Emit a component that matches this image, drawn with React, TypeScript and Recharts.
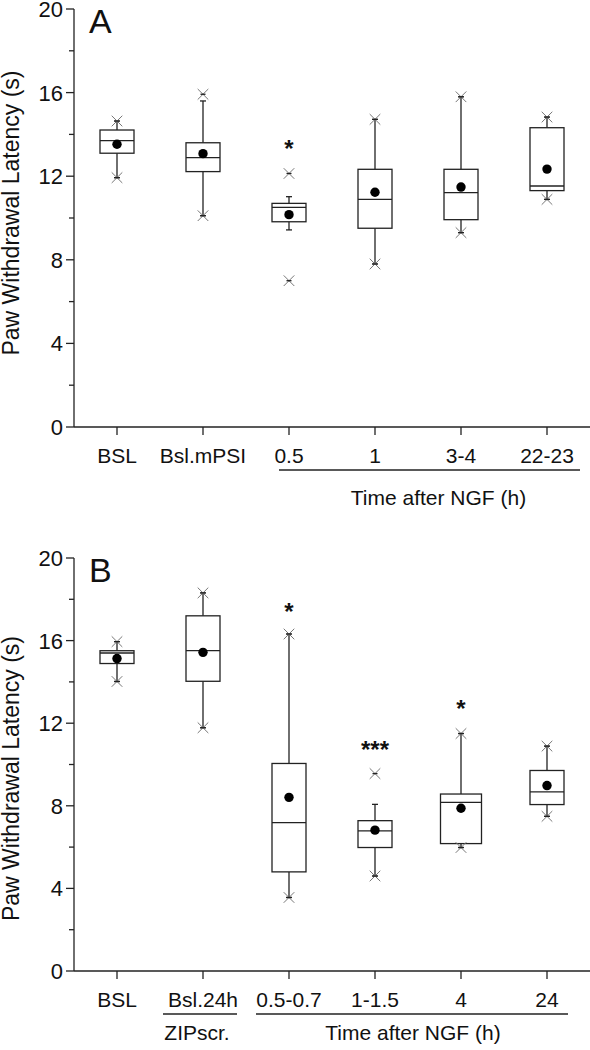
import React from "react";
import { ComposedChart, Bar, XAxis, YAxis } from "recharts";

const FONT = "'Liberation Sans', Arial, Helvetica, sans-serif";
const INK = "#222";

// Panel A
const catsA = ["BSL", "Bsl.mPSI", "0.5", "1", "3-4", "22-23"];
const lowA = [11.93, 10.11, 7.0, 7.8, 9.3, 10.89];
const wLowA = [11.93, 10.11, 9.43, 7.8, 9.3, 10.89];
const q1A = [13.1, 12.22, 9.82, 9.51, 9.92, 11.31];
const medA = [13.7, 12.89, 10.51, 10.89, 11.21, 11.53];
const meanA = [13.53, 13.08, 10.16, 11.23, 11.48, 12.34];
const q3A = [14.21, 13.6, 10.7, 12.33, 12.33, 14.32];
const wHighA = [14.64, 15.6, 11.02, 14.72, 15.8, 14.83];
const highA = [14.64, 15.92, 12.13, 14.72, 15.8, 14.83];
const sigA = ["", "", "*", "", "", ""];
const sigAtA = [0, 0, 13.6, 0, 0, 0];

// Panel B
const catsB = ["BSL", "Bsl.24h", "0.5-0.7", "1-1.5", "4", "24"];
const lowB = [14.02, 11.78, 3.56, 4.6, 5.98, 7.49];
const wLowB = [14.02, 11.78, 3.56, 4.6, 5.98, 7.49];
const q1B = [14.89, 14.03, 4.8, 5.98, 6.17, 8.06];
const medB = [15.4, 15.51, 7.19, 6.79, 8.17, 8.67];
const meanB = [15.13, 15.43, 8.41, 6.82, 7.88, 8.98];
const q3B = [15.51, 17.2, 10.05, 7.28, 8.57, 9.71];
const wHighB = [15.95, 18.31, 16.32, 8.07, 11.5, 10.89];
const highB = [15.95, 18.31, 16.32, 9.56, 11.5, 10.89];
const sigB = ["", "", "*", "***", "*", ""];
const sigAtB = [0, 0, 17.7, 11.0, 13.0, 0];

const yTicks = [0, 2, 4, 6, 8, 10, 12, 14, 16, 18, 20];

function build(cats, low, wLow, q1, med, mean, q3, wHigh, high, sig, sigAt) {
  return cats.map((name, i) => ({
    name,
    low: low[i],
    wLow: wLow[i],
    q1: q1[i],
    med: med[i],
    mean: mean[i],
    q3: q3[i],
    wHigh: wHigh[i],
    high: high[i],
    sig: sig[i],
    sigAt: sigAt[i],
  }));
}

const dataA = build(catsA, lowA, wLowA, q1A, medA, meanA, q3A, wHighA, highA, sigA, sigAtA);
const dataB = build(catsB, lowB, wLowB, q1B, medB, meanB, q3B, wHighB, highB, sigB, sigAtB);

function BoxShape(props: any) {
  const { x, y, width, height, payload: d, wideName } = props;
  // range bar spans [low, high], so map values through its own pixel extent
  const k = height / (d.high - d.low);
  const py = (v: number) => y + (d.high - v) * k;
  const cx = x + width / 2;
  const w = d.name === wideName ? 41 : width;
  const bx = cx - w / 2;
  const cross = (v: number) => {
    const cy = py(v);
    const s = 5.3;
    return (
      <g>
        <line x1={cx - s} y1={cy - s} x2={cx + s} y2={cy + s} stroke="#777" strokeWidth={1} />
        <line x1={cx - s} y1={cy + s} x2={cx + s} y2={cy - s} stroke="#777" strokeWidth={1} />
        <line x1={cx - 2.5} y1={cy} x2={cx + 2.5} y2={cy} stroke={INK} strokeWidth={1.3} />
      </g>
    );
  };
  return (
    <g>
      {/* whiskers */}
      <line x1={cx} y1={py(d.q3)} x2={cx} y2={py(d.wHigh)} stroke={INK} strokeWidth={1.3} />
      <line x1={cx} y1={py(d.q1)} x2={cx} y2={py(d.wLow)} stroke={INK} strokeWidth={1.3} />
      <line x1={cx - 3} y1={py(d.wHigh)} x2={cx + 3} y2={py(d.wHigh)} stroke={INK} strokeWidth={1.3} />
      <line x1={cx - 3} y1={py(d.wLow)} x2={cx + 3} y2={py(d.wLow)} stroke={INK} strokeWidth={1.3} />
      {/* box */}
      <rect x={bx} y={py(d.q3)} width={w} height={py(d.q1) - py(d.q3)} fill="#fff" stroke={INK} strokeWidth={1.3} />
      <line x1={bx} y1={py(d.med)} x2={bx + w} y2={py(d.med)} stroke={INK} strokeWidth={1.3} />
      <circle cx={cx} cy={py(d.mean)} r={4.7} fill="#000" />
      {cross(d.low)}
      {cross(d.high)}
      {d.sig && (
        <text x={cx} y={py(d.sigAt)} dy="0.6em" textAnchor="middle" fontSize={24} fontWeight="bold" fontFamily={FONT} fill="#111">
          {d.sig}
        </text>
      )}
    </g>
  );
}

function YTick(props: any) {
  const { x, y, payload } = props;
  const major = payload.value % 4 === 0;
  return (
    <g>
      <line x1={x} x2={x - (major ? 8 : 5)} y1={y} y2={y} stroke={INK} strokeWidth={1.3} />
      {major && (
        <text x={x - 11} y={y} dy="0.36em" textAnchor="end" fontSize={22} fontFamily={FONT} fill="#111">
          {payload.value}
        </text>
      )}
    </g>
  );
}

function XTick(props: any) {
  const { x, y, payload, index, groups, band, textDy } = props;
  const g = groups.find((gr) => gr.last === index);
  let extra = null;
  if (g) {
    const x0 = x - (g.last - g.first) * band + g.padL;
    const x1 = x + g.padR;
    extra = (
      <g>
        <line x1={x0} x2={x1} y1={y + 22} y2={y + 22} stroke={INK} strokeWidth={1.5} />
        <text x={(x0 + x1) / 2 + g.dx} y={y + textDy} dy="0.71em" textAnchor="middle" fontSize={21} fontFamily={FONT} fill="#111">
          {g.text}
        </text>
      </g>
    );
  }
  return (
    <g>
      <text x={x} y={y} dy="0.71em" textAnchor="middle" fontSize={21} fontFamily={FONT} fill="#111">
        {payload.value}
      </text>
      {extra}
    </g>
  );
}

function YLabel(props: any) {
  const { viewBox, letter, dy } = props;
  const { x, y, width, height } = viewBox;
  return (
    <g>
      <text
        transform={`translate(${x + 19}, ${y + height / 2 + dy}) rotate(-90)`}
        textAnchor="middle"
        fontSize={23}
        fontFamily={FONT}
        fill="#111"
      >
        Paw Withdrawal Latency (s)
      </text>
      <text x={x + width + 15} y={y + 24} fontSize={34} fontFamily={FONT} fill="#111">
        {letter}
      </text>
    </g>
  );
}

const W = 590;
const AXIS_W = 74;

function Panel({ data, height, top, xHeight, letter, labelDy, groups, wideName, textDy }) {
  const band = (W - AXIS_W) / data.length;
  return (
    <ComposedChart width={W} height={height} data={data} margin={{ top, right: 0, bottom: 0, left: 0 }}>
      <XAxis
        dataKey="name"
        type="category"
        interval={0}
        height={xHeight}
        tickSize={8}
        tickMargin={13}
        axisLine={{ stroke: INK, strokeWidth: 1.3 }}
        tickLine={{ stroke: INK, strokeWidth: 1.3 }}
        tick={(p) => <XTick {...p} groups={groups} band={band} textDy={textDy} />}
      />
      <YAxis
        type="number"
        domain={[0, 20]}
        ticks={yTicks}
        interval={0}
        width={AXIS_W}
        tickSize={0}
        tickMargin={0}
        tickLine={false}
        axisLine={{ stroke: INK, strokeWidth: 1.3 }}
        tick={(p) => <YTick {...p} />}
        label={(p) => <YLabel {...p} letter={letter} dy={labelDy} />}
      />
      <Bar
        dataKey={(d) => [d.low, d.high]}
        barSize={34}
        isAnimationActive={false}
        shape={(p) => <BoxShape {...p} wideName={wideName} />}
      />
    </ComposedChart>
  );
}

export default function App() {
  return (
    <div style={{ position: "absolute", left: 0, top: 0, width: W, height: 1050, background: "#fff" }}>
      <Panel
        data={dataA}
        height={520}
        top={9}
        xHeight={93}
        letter="A"
        labelDy={-5}
        wideName=""
        textDy={42}
        groups={[{ first: 2, last: 5, padL: -10, padR: 33, dx: 9, text: "Time after NGF (h)" }]}
      />
      <Panel
        data={dataB}
        height={530}
        top={38}
        xHeight={79}
        letter="B"
        labelDy={14}
        wideName="4"
        textDy={33}
        groups={[
          { first: 1, last: 1, padL: -40, padR: 34, dx: -3, text: "ZIPscr." },
          { first: 2, last: 5, padL: -33, padR: 21, dx: 1, text: "Time after NGF (h)" },
        ]}
      />
    </div>
  );
}
